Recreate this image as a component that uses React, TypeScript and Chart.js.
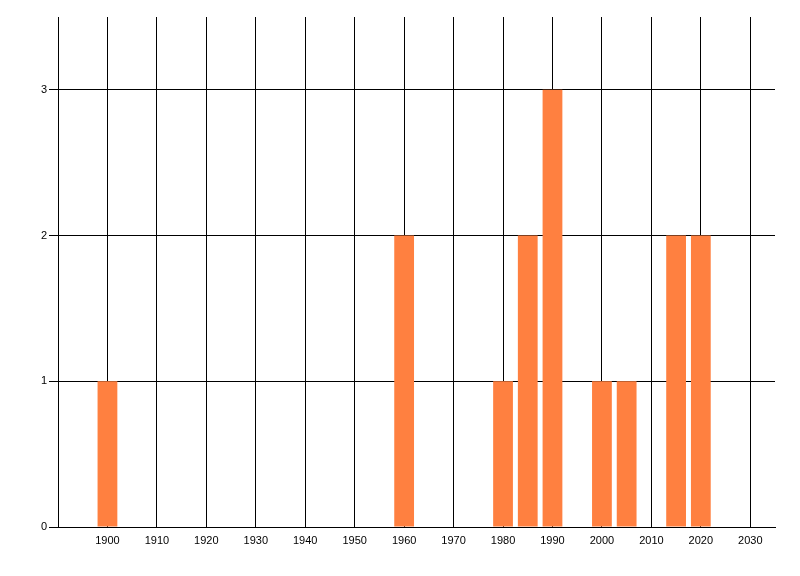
import React, { useEffect, useRef } from "react";
import { Chart, registerables } from "chart.js";

Chart.register(...registerables);

const years: number[] = [1900, 1960, 1980, 1985, 1990, 2000, 2005, 2015, 2020];
const counts: number[] = [1, 2, 1, 2, 3, 1, 1, 2, 2];
const xTickValues: number[] = [1900, 1910, 1920, 1930, 1940, 1950, 1960, 1970, 1980, 1990, 2000, 2010, 2020, 2030];
const yTickValues: number[] = [0, 1, 2, 3];

export default function App() {
  const ref = useRef<HTMLCanvasElement | null>(null);

  useEffect(() => {
    if (!ref.current) return;
    const font = { family: "'Liberation Sans', Arial, sans-serif", size: 11 };
    const chart = new Chart(ref.current, {
      type: "bar",
      data: {
        datasets: [
          {
            data: years.map((y, i) => ({ x: y, y: counts[i] })),
            backgroundColor: "#FF8040",
            borderWidth: 0,
            categoryPercentage: 0.8,
            barPercentage: 1.0,
          },
        ],
      },
      options: {
        animation: false,
        responsive: false,
        devicePixelRatio: 1,
        layout: { padding: { top: 17, right: 25, left: 0, bottom: 0 } },
        plugins: { legend: { display: false }, tooltip: { enabled: false } },
        scales: {
          x: {
            type: "linear",
            min: 1890,
            max: 2035,
            offset: false,
            afterBuildTicks: (scale: any) => {
              scale.ticks = xTickValues.map((v) => ({ value: v }));
            },
            afterFit: (scale: any) => {
              scale.height = 49;
            },
            grid: { color: "#000", lineWidth: 1, drawTicks: false, offset: false },
            border: { color: "#000", width: 1 },
            ticks: {
              color: "#000",
              font,
              padding: 7,
              maxRotation: 0,
              autoSkip: false,
              callback: (v: any) => String(v),
            },
          },
          y: {
            type: "linear",
            min: 0,
            max: 3.5,
            afterBuildTicks: (scale: any) => {
              scale.ticks = yTickValues.map((v) => ({ value: v }));
            },
            afterFit: (scale: any) => {
              scale.width = 58;
            },
            grid: { color: "#000", lineWidth: 1, drawTicks: true, tickLength: 9 },
            border: { color: "#000", width: 1 },
            ticks: { color: "#000", font, padding: 2, callback: (v: any) => String(v) },
          },
        },
      },
    });
    return () => chart.destroy();
  }, []);

  return (
    <div style={{ position: "absolute", left: 0, top: 0, width: 800, height: 576, background: "#fff" }}>
      <canvas ref={ref} width={800} height={576} style={{ width: 800, height: 576 }} />
    </div>
  );
}
